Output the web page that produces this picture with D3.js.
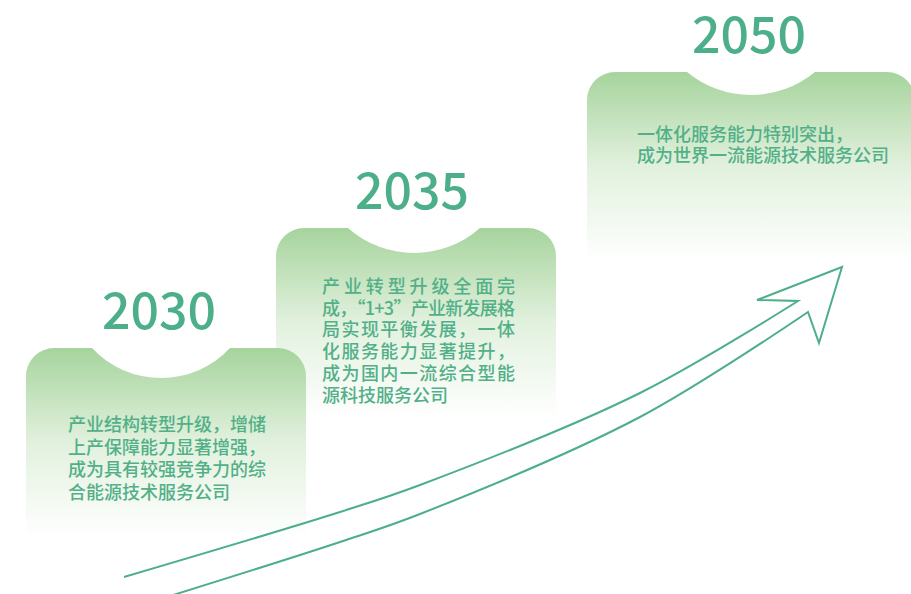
<!DOCTYPE html>
<html>
<head>
<meta charset="utf-8">
<script src="https://cdn.jsdelivr.net/npm/d3@7"></script>
<style>
  html, body { margin: 0; padding: 0; background: #fff; }
  svg { display: block; }
</style>
</head>
<body>
<script>
// milestones
var years = ["2030", "2035", "2050"];
var lines2030 = ["产业结构转型升级，增储", "上产保障能力显著增强，", "成为具有较强竞争力的综", "合能源技术服务公司"];
var lines2035 = ["产业转型升级全面完", "成，“1+3”产业新发展格", "局实现平衡发展，一体", "化服务能力显著提升，", "成为国内一流综合型能", "源科技服务公司"];
var lines2050 = ["一体化服务能力特别突出，", "成为世界一流能源技术服务公司"];
var descriptions = [lines2030, lines2035, lines2050];

// card geometry (left, top, width, notch start, notch width, notch depth, text x, first baseline, line height, justify width)
var layout = [
    {x: 26,  y: 348, w: 280, nl: 66,  nw: 138, nd: 30, tx: 68,  ty: 431, lh: 22.5, just: 0},
    {x: 276, y: 228, w: 280, nl: 72,  nw: 132, nd: 25, tx: 322, ty: 293, lh: 21.7, just: 193},
    {x: 587, y: 72,  w: 328, nl: 100, nw: 128, nd: 23, tx: 637, ty: 141, lh: 20.5, just: 0}
];
var cardH = 190, cornerR = 28;

// arrow outline guide points
var arrowUpper = [[124, 577], [340, 512], [420, 485], [640, 393], [798, 301]];
var arrowHead = [[757, 300], [842, 267], [819, 343]];
var arrowLower = [[808, 312], [640, 417], [420, 514], [340, 542], [170, 596]];

var width = 911, height = 594;
var green = "#4caf89", textGreen = "#52b088";

var svg = d3.select("body").append("svg")
    .attr("width", width)
    .attr("height", height);

var defs = svg.append("defs");
var grad = defs.append("linearGradient")
    .attr("id", "cardGrad")
    .attr("x1", 0).attr("y1", 0).attr("x2", 0).attr("y2", 1);
grad.append("stop").attr("offset", "0%").attr("stop-color", "#a6d49d");
grad.append("stop").attr("offset", "50%").attr("stop-color", "#e2f1de");
grad.append("stop").attr("offset", "100%").attr("stop-color", "#ffffff");

function cardPath(c){
    var p = d3.path();
    var nx1 = c.x + c.nl, nx2 = c.x + c.nl + c.nw;
    var half = c.nw / 2;
    var R = (half * half + c.nd * c.nd) / (2 * c.nd);
    var cx = nx1 + half, cy = c.y + c.nd - R;
    var a0 = Math.atan2(c.y - cy, nx1 - cx), a1 = Math.atan2(c.y - cy, nx2 - cx);
    p.moveTo(c.x, c.y + cardH);
    p.lineTo(c.x, c.y + cornerR);
    p.arcTo(c.x, c.y, c.x + cornerR, c.y, cornerR);
    p.lineTo(nx1, c.y);
    p.arc(cx, cy, R, a0, a1, true);
    p.lineTo(c.x + c.w - cornerR, c.y);
    p.arcTo(c.x + c.w, c.y, c.x + c.w, c.y + cornerR, cornerR);
    p.lineTo(c.x + c.w, c.y + cardH);
    p.closePath();
    return p.toString();
}

// draw from back to front so the 2030 card sits on top of the 2035 card
var order = [2, 1, 0];
var cards = svg.selectAll(".card")
    .data(order.map(function(i){ return {year: years[i], lines: descriptions[i], c: layout[i]}; }))
    .enter()
    .append("g")
    .attr("class", "card");

cards.append("path")
    .attr("d", function(d){ return cardPath(d.c); })
    .attr("fill", "url(#cardGrad)");

cards.append("text")
    .attr("class", "year")
    .attr("x", function(d){ return d.c.x + d.c.nl + d.c.nw / 2 - 2; })
    .attr("y", function(d){ return d.c.y - 19; })
    .attr("text-anchor", "middle")
    .attr("font-family", "'Noto Sans CJK SC', 'Noto Sans', sans-serif")
    .attr("font-size", 50)
    .attr("font-weight", 500)
    .attr("fill", green)
    .text(function(d){ return d.year; });

cards.each(function(d){
    var g = d3.select(this);
    g.selectAll(".desc")
        .data(d.lines)
        .enter()
        .append("text")
        .attr("class", "desc")
        .attr("x", d.c.tx)
        .attr("y", function(t, i){ return d.c.ty + i * d.c.lh; })
        .attr("font-family", "'Noto Sans CJK SC', sans-serif")
        .attr("font-size", 18)
        .attr("font-weight", 500)
        .attr("fill", textGreen)
        .each(function(t, i){
            if (d.c.just && i < d.lines.length - 1) {
                d3.select(this).attr("textLength", d.c.just).attr("lengthAdjust", "spacing");
            }
        })
        .text(function(t){ return t; });
});

// arrow
var curve = d3.line().curve(d3.curveCatmullRom.alpha(0.5));
var arrowD = curve(arrowUpper)
    + arrowHead.map(function(p){ return "L" + p[0] + "," + p[1]; }).join("")
    + curve(arrowLower).replace(/^M/, "L");

svg.append("path")
    .attr("class", "arrow")
    .attr("d", arrowD)
    .attr("fill", "none")
    .attr("stroke", green)
    .attr("stroke-width", 2)
    .attr("stroke-linejoin", "miter");
</script>
</body>
</html>
